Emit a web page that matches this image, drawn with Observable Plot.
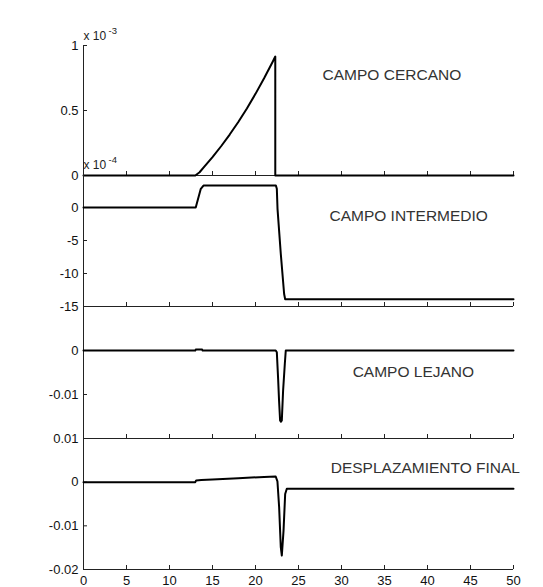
<!DOCTYPE html>
<html>
<head>
<meta charset="utf-8">
<script src="https://cdn.jsdelivr.net/npm/d3@7"></script>
<script src="https://cdn.jsdelivr.net/npm/@observablehq/plot@0.6"></script>
<style>
  html, body { margin: 0; padding: 0; background: #fff; }
  #chart { position: relative; width: 543px; height: 587px; overflow: hidden; }
  #chart svg { position: absolute; left: 0; }
</style>
</head>
<body>
<div id="chart"></div>
<script>
// Time axis shared by all four panels
const xTicks = [0, 5, 10, 15, 20, 25, 30, 35, 40, 45, 50];

// Near field
const cercanoT = [0, 13.0, 13.5, 14, 15, 16, 17, 18, 19, 20, 21, 22, 22.3, 22.3, 50];
const cercanoV = [0, 0, 0.025e-3, 0.065e-3, 0.142e-3, 0.225e-3, 0.315e-3, 0.412e-3, 0.516e-3, 0.628e-3, 0.748e-3, 0.875e-3, 0.915e-3, 0, 0];
const cercanoTicks = [0, 0.0005, 0.001];

// Intermediate field
const intermedioT = [0, 13.05, 13.64, 13.95, 22.37, 22.48, 22.56, 22.94, 23.33, 23.45, 50];
const intermedioV = [0, 0, 2.83e-4, 3.33e-4, 3.33e-4, 2.83e-4, -0.2e-4, -7.0e-4, -13.1e-4, -13.9e-4, -13.9e-4];
const intermedioTicks = [-0.0015, -0.001, -0.0005, 0];

// Far field
const lejanoT = [0, 13.0, 13.05, 13.8, 13.85, 22.35, 22.48, 22.63, 22.74, 22.86, 22.96, 23.06, 23.21, 23.41, 23.52, 50];
const lejanoV = [0, 0, 0.0002, 0.0002, 0, 0, -0.0004, -0.0064, -0.0114, -0.0159, -0.0162, -0.0159, -0.0091, -0.003, 0, 0];
const lejanoTicks = [-0.01, 0];

// Final displacement
const finalT = [0, 13.0, 13.1, 13.7, 15, 18, 21, 22.35, 22.55, 22.75, 22.94, 23.06, 23.26, 23.45, 23.64, 50];
const finalV = [0, 0, 0.0004, 0.0005, 0.0006, 0.0009, 0.0012, 0.0013, 0.0002, -0.0058, -0.0149, -0.0168, -0.0111, -0.0027, -0.0015, -0.0015];
const finalTicks = [-0.02, -0.01, 0, 0.01];

const titles = ["CAMPO CERCANO", "CAMPO INTERMEDIO", "CAMPO LEJANO", "DESPLAZAMIENTO FINAL"];

const FONT = "'Liberation Sans', Arial, Helvetica, sans-serif";
const AXIS = "#222";

function panel({t, v, domain, top, bottom, yTicks, yFormat, title, titleX, titleY, exponent, lastRow}) {
  const mt = 20, mb = lastRow ? 18 : 20;
  const rows = t.map((d, i) => ({t: d, v: v[i]}));
  const marks = [
    Plot.ruleX([0], {stroke: AXIS, strokeWidth: 1}),
    Plot.ruleY([domain[0]], {stroke: AXIS, strokeWidth: 1}),
    Plot.axisY({ticks: yTicks, tickSize: -4, tickPadding: 9, tickFormat: yFormat, label: null, stroke: AXIS, fill: "#111", fontSize: 13}),
    Plot.axisX({ticks: xTicks, tickSize: -4, tickPadding: 10, tickFormat: lastRow ? (d => String(d)) : (() => ""), label: null, stroke: AXIS, fill: "#111", fontSize: 13}),
    Plot.line(rows, {x: "t", y: "v", stroke: "#000", strokeWidth: 2, curve: "linear"}),
    Plot.text([title], {x: titleX, y: titleY, text: d => d, textAnchor: "start", fontSize: 15.5, fill: "#333"})
  ];
  if (exponent) {
    marks.push(
      Plot.text(["x 10"], {frameAnchor: "top-left", text: d => d, textAnchor: "start", lineAnchor: "bottom", dx: 0, dy: -6, fontSize: 12, fill: "#222"}),
      Plot.text([exponent], {frameAnchor: "top-left", text: d => d, textAnchor: "start", lineAnchor: "bottom", dx: 25, dy: -12, fontSize: 9.5, fill: "#222"})
    );
  }
  const svg = Plot.plot({
    width: 543,
    height: (bottom - top) + mt + mb,
    marginTop: mt,
    marginBottom: mb,
    marginLeft: 83,
    marginRight: 30,
    x: {domain: [0, 50]},
    y: {domain},
    style: {background: "transparent", overflow: "visible", fontFamily: FONT, fontSize: "13px", color: "#111"},
    marks
  });
  svg.style.top = (top - mt) + "px";
  return svg;
}

const chart = document.getElementById("chart");
chart.append(
  panel({t: cercanoT, v: cercanoV, domain: [0, 0.001], top: 45, bottom: 175, yTicks: cercanoTicks,
    yFormat: d => String(+(d * 1e3).toFixed(2)), title: titles[0], titleX: 27.8, titleY: 0.00077, exponent: "-3"}),
  panel({t: intermedioT, v: intermedioV, domain: [-0.0015, 0.0005], top: 174, bottom: 306, yTicks: intermedioTicks,
    yFormat: d => String(Math.round(d * 1e4)), title: titles[1], titleX: 28.6, titleY: -0.000136, exponent: "-4"}),
  panel({t: lejanoT, v: lejanoV, domain: [-0.02, 0.01], top: 306, bottom: 438, yTicks: lejanoTicks,
    yFormat: d => String(+d.toFixed(3)), title: titles[2], titleX: 31.3, titleY: -0.0049}),
  panel({t: finalT, v: finalV, domain: [-0.02, 0.01], top: 438, bottom: 569, yTicks: finalTicks,
    yFormat: d => String(+d.toFixed(3)), title: titles[3], titleX: 28.75, titleY: 0.00325, lastRow: true})
);
</script>
</body>
</html>
